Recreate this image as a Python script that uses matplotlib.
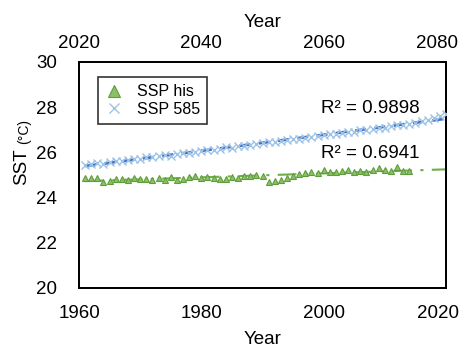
import numpy as np
import matplotlib
matplotlib.use("Agg")
import matplotlib.pyplot as plt
import matplotlib.transforms as mtrans

plt.rcParams['font.family'] = ['Liberation Sans', 'DejaVu Sans']

# Historical series (bottom axis)
his_years = list(range(1961, 2015))
his_sst = [24.88, 24.87, 24.86, 24.68, 24.75, 24.83, 24.84, 24.80, 24.86, 24.83,
           24.84, 24.78, 24.86, 24.80, 24.90, 24.80, 24.82, 24.92, 24.95, 24.88,
           24.90, 24.85, 24.84, 24.83, 24.90, 24.88, 24.95, 24.97, 25.00, 24.96,
           24.70, 24.72, 24.76, 24.85, 24.95, 25.05, 25.10, 25.12, 25.10, 25.22,
           25.15, 25.12, 25.16, 25.20, 25.12, 25.16, 25.12, 25.20, 25.30, 25.22,
           25.16, 25.35, 25.18, 25.16]

# SSP585 series (top axis)
ssp_years = list(range(2021, 2081))
ssp_sst = [25.45, 25.48, 25.52, 25.50, 25.58, 25.62, 25.60, 25.68, 25.70, 25.72,
           25.78, 25.80, 25.82, 25.88, 25.85, 25.92, 25.98, 25.96, 26.02, 26.08,
           26.10, 26.12, 26.15, 26.22, 26.20, 26.28, 26.30, 26.32, 26.38, 26.40,
           26.44, 26.48, 26.50, 26.55, 26.58, 26.60, 26.65, 26.68, 26.72, 26.75,
           26.80, 26.82, 26.85, 26.90, 26.92, 26.98, 27.00, 27.05, 27.08, 27.10,
           27.15, 27.20, 27.22, 27.25, 27.30, 27.38, 27.45, 27.52, 27.60, 27.68]

bottom_ticks = [1960, 1980, 2000, 2020]
top_ticks = [2020, 2040, 2060, 2080]
y_ticks = [20, 22, 24, 26, 28, 30]
r2_labels = ["R² = 0.9898", "R² = 0.6941"]

green_edge = '#5E9E3A'
green_fill = '#8CC068'
blue_x = '#9DC3E6'
blue_trend = '#4472C4'
green_trend = '#70AD47'

W, H = 465, 352
fig = plt.figure(figsize=(W/100, H/100), dpi=100)
ax = fig.add_axes([79/W, 1-288/H, (446-79)/W, (288-62)/H])
ax2 = ax.twiny()

# historical
h_line, = ax.plot(his_years, his_sst, linestyle='none', marker='^', markersize=5,
                  markerfacecolor=green_fill, markeredgecolor=green_edge,
                  markeredgewidth=0.8, label='SSP his', zorder=3)
p = np.polyfit(his_years, his_sst, 1)
xt = np.array([1961, 2020])
ax.plot(xt, np.polyval(p, xt), color=green_trend, lw=1.5,
        dashes=(9, 4, 1.5, 4), zorder=2)

# ssp585
s_line, = ax2.plot(ssp_years, ssp_sst, linestyle='none', marker='x', markersize=6,
                   color=blue_x, markeredgewidth=1.0, label='SSP 585', zorder=3)
p2 = np.polyfit(ssp_years, ssp_sst, 1)
xt2 = np.array([2021, 2080])
ax2.plot(xt2, np.polyval(p2, xt2), color=blue_trend, lw=2.0,
         dashes=(4, 3), zorder=2)

ax.set_xlim(1960, 2020)
ax2.set_xlim(2020, 2080)
ax.set_ylim(20, 30)
ax.set_xticks(bottom_ticks)
ax2.set_xticks(top_ticks)
ax.set_yticks(y_ticks)

for a in (ax, ax2):
    for s in a.spines.values():
        s.set_linewidth(1.3)
        s.set_color('black')
ax.tick_params(axis='both', length=0, labelsize=13.5, colors='black')
ax.tick_params(axis='x', pad=12)
ax.tick_params(axis='y', pad=16)
ax2.tick_params(axis='x', length=0, labelsize=13.5, pad=7)

# shift edge labels inward like the reference
lab = ax.xaxis.get_major_ticks()[-1].label1
lab.set_transform(lab.get_transform() + mtrans.ScaledTranslation(-8/100, 0, fig.dpi_scale_trans))
lab2 = ax2.xaxis.get_major_ticks()[-1].label2
lab2.set_transform(lab2.get_transform() + mtrans.ScaledTranslation(-9/100, 0, fig.dpi_scale_trans))

ax.set_xlabel('Year', fontsize=13.5, labelpad=7)
ax2.set_xlabel('Year', fontsize=13.5, labelpad=6)

fig.text(22/W, 1-167/H, 'SST', rotation=90, fontsize=13.5, ha='center', va='center')
fig.text(24/W, 1-132/H, '(°C)', rotation=90, fontsize=10, ha='center', va='center')

fig.text(370/W, 1-109/H, r2_labels[0], fontsize=13.5, ha='center', va='center')
fig.text(370/W, 1-154/H, r2_labels[1], fontsize=13.5, ha='center', va='center')

leg = ax.legend(handles=[h_line, s_line], loc='upper left',
                bbox_to_anchor=(98/W, 1-77/H), bbox_transform=fig.transFigure,
                fontsize=11.5, frameon=True, fancybox=False, edgecolor='black',
                handlelength=1.1, handletextpad=0.9, borderpad=0.45,
                labelspacing=0.15, markerscale=1.0, borderaxespad=0)
leg.get_frame().set_linewidth(1.2)
lh = leg.legend_handles
lh[0].set_markersize(9)
lh[1].set_markersize(7)

fig.savefig('out.png', dpi=100)
